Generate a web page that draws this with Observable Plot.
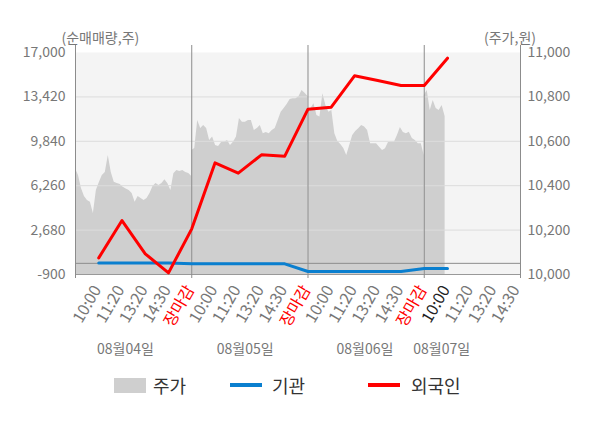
<!DOCTYPE html>
<html><head><meta charset="utf-8">
<script src="https://cdn.jsdelivr.net/npm/d3@7"></script>
<script src="https://cdn.jsdelivr.net/npm/@observablehq/plot@0.6"></script>
<style>
body{margin:0;background:#fff;font-family:'Noto Sans CJK KR',sans-serif;}
#legend{position:relative;height:58px;width:600px;}
.item{position:absolute;top:0;height:30px;display:flex;align-items:center;font-size:18px;color:#333;}
.sw{display:inline-block;}
</style></head><body><div id="chart"></div><div id="legend"></div>
<script>
// x-axis tick labels (one per slot, slots 1..19)
const tickLabels = ["10:00","11:20","13:20","14:30","장마감",
                    "10:00","11:20","13:20","14:30","장마감",
                    "10:00","11:20","13:20","14:30","장마감",
                    "10:00","11:20","13:20","14:30"];
// net buying (shares), one value per slot 1..16
const foreign = [440, 3450, 770, -770, 2780, 8100, 7270, 8750, 8640, 12430, 12590, 15120, 14740, 14340, 14340, 16540];
const institution = [30, 30, 30, 30, -40, -40, -40, -40, -40, -660, -660, -660, -660, -660, -420, -420];
const dayLabels = ["08월04일", "08월05일", "08월06일", "08월07일"];
const dayLabelSlot = [2.15, 7.3, 12.45, 15.75];
const leftTicks = [-900, 2680, 6260, 9840, 13420, 17000];
const rightTicks = [10000, 10200, 10400, 10600, 10800, 11000];
// intraday price (won), evenly sampled through each session
const priceDay1 = [10476,10446,10387,10351,10333,10326,10275,10378,10414,10446,10459,10536,10459,10416,10410,10405,10393,10385,10378,10365,10326,10351,10342,10333,10342,10365,10396,10410,10401,10410,10427,10409,10378,10454,10468,10464,10468,10459,10455,10441];
const priceDay2 = [10559,10568,10694,10658,10671,10658,10604,10619,10581,10577,10595,10596,10604,10581,10596,10619,10703,10686,10686,10694,10694,10649,10658,10671,10634,10640,10634,10649,10658,10694,10731,10748,10766,10788,10792,10792,10802,10829,10817,10802];
const priceDay3 = [10739,10748,10769,10716,10709,10814,10761,10731,10739,10634,10599,10586,10568,10536,10581,10626,10644,10656,10671,10664,10649,10589,10589,10589,10573,10559,10566,10595,10596,10596,10626,10662,10640,10634,10641,10613,10604,10589,10589,10536];
const priceDay4 = [10806,10829,10739,10784,10748,10739,10761,10712];

const slotsPerDay = 5;
const xMax = 19.14;
const leftDomain = [-900, 17000];
const rightDomain = [10000, 11000];
const toLeft = p => leftDomain[0] + (p - rightDomain[0]) / (rightDomain[1] - rightDomain[0]) * (leftDomain[1] - leftDomain[0]);

const areaRows = [];
[priceDay1, priceDay2, priceDay3, priceDay4].forEach((arr, d) => {
  arr.forEach((p, i) => areaRows.push({x: d * slotsPerDay + i * slotsPerDay / 39, v: toLeft(p), day: d}));
});
const foreignRows = foreign.map((v, i) => ({x: i + 1, v}));
const instRows = institution.map((v, i) => ({x: i + 1, v}));
const tickRows = tickLabels.map((t, i) => ({x: i + 1, t, c: t === "장마감" ? "#ff0000" : (i === 15 ? "#222" : "#777")}));
const dayRows = dayLabels.map((t, i) => ({x: dayLabelSlot[i], t}));
const bounds = [0, 5, 10, 15, xMax];
const gridVals = leftTicks.filter(v => v !== leftDomain[0] && v !== leftDomain[1]);
const fmt = v => v.toLocaleString("en-US");

const chart = Plot.plot({
  width: 600, height: 370,
  marginLeft: 75, marginRight: 80, marginTop: 52, marginBottom: 96,
  style: {fontFamily: "'Noto Sans CJK KR', sans-serif", fontSize: "14px", background: "#fff"},
  x: {domain: [0, xMax], axis: null},
  y: {domain: leftDomain, axis: null},
  marks: [
    Plot.frame({fill: "#f4f4f4", stroke: null}),
    Plot.areaY(areaRows, {x: "x", y1: () => leftDomain[0], y2: "v", z: "day", fill: "#cfcfcf"}),
    Plot.ruleY(gridVals, {stroke: "#dcdcdc", strokeWidth: 1}),
    Plot.ruleY([0], {stroke: "#8c8c8c", strokeWidth: 1}),
    Plot.ruleY([leftDomain[0]], {stroke: "#999", strokeWidth: 1}),
    Plot.ruleX(bounds, {stroke: "#8c8c8c", strokeWidth: 1, insetTop: -7, insetBottom: -4}),
    Plot.line(instRows, {x: "x", y: "v", stroke: "#0a7fcf", strokeWidth: 3}),
    Plot.line(foreignRows, {x: "x", y: "v", stroke: "#ff0000", strokeWidth: 3}),
    Plot.text(leftTicks, {y: d => d, text: fmt, frameAnchor: "left", textAnchor: "end", dx: -10, fill: "#777"}),
    Plot.text(rightTicks, {y: toLeft, text: fmt, frameAnchor: "right", textAnchor: "start", dx: 7, fill: "#777"}),
    Plot.text(tickRows, {x: "x", text: "t", fill: "c", frameAnchor: "bottom", textAnchor: "end", rotate: -60, dx: 3, dy: 15, fontSize: 16}),
    Plot.text(dayRows, {x: "x", text: "t", frameAnchor: "bottom", dy: 79, fill: "#777"}),
    Plot.text(["(순매매량,주)"], {text: d => d, frameAnchor: "top-left", dx: -14, dy: -19, fill: "#777"}),
    Plot.text(["(주가,원)"], {text: d => d, frameAnchor: "top-right", dx: 15.5, dy: -19, fill: "#777"})
  ]
});
document.getElementById("chart").appendChild(chart);

const legendItems = [
  {label: "주가", kind: "area", color: "#cfcfcf", sw: 114, tx: 153},
  {label: "기관", kind: "line", color: "#0a7fcf", sw: 230, tx: 272},
  {label: "외국인", kind: "line", color: "#ff0000", sw: 368, tx: 411}
];
const leg = document.getElementById("legend");
legendItems.forEach(it => {
  const s = document.createElement("div");
  s.className = "item";
  s.style.left = it.sw + "px";
  const b = document.createElement("span");
  b.className = "sw";
  b.style.width = "32px";
  b.style.height = it.kind === "area" ? "15px" : "3.5px";
  b.style.background = it.color;
  s.appendChild(b);
  leg.appendChild(s);
  const t = document.createElement("div");
  t.className = "item";
  t.style.left = it.tx + "px";
  t.textContent = it.label;
  leg.appendChild(t);
});
</script></body></html>
